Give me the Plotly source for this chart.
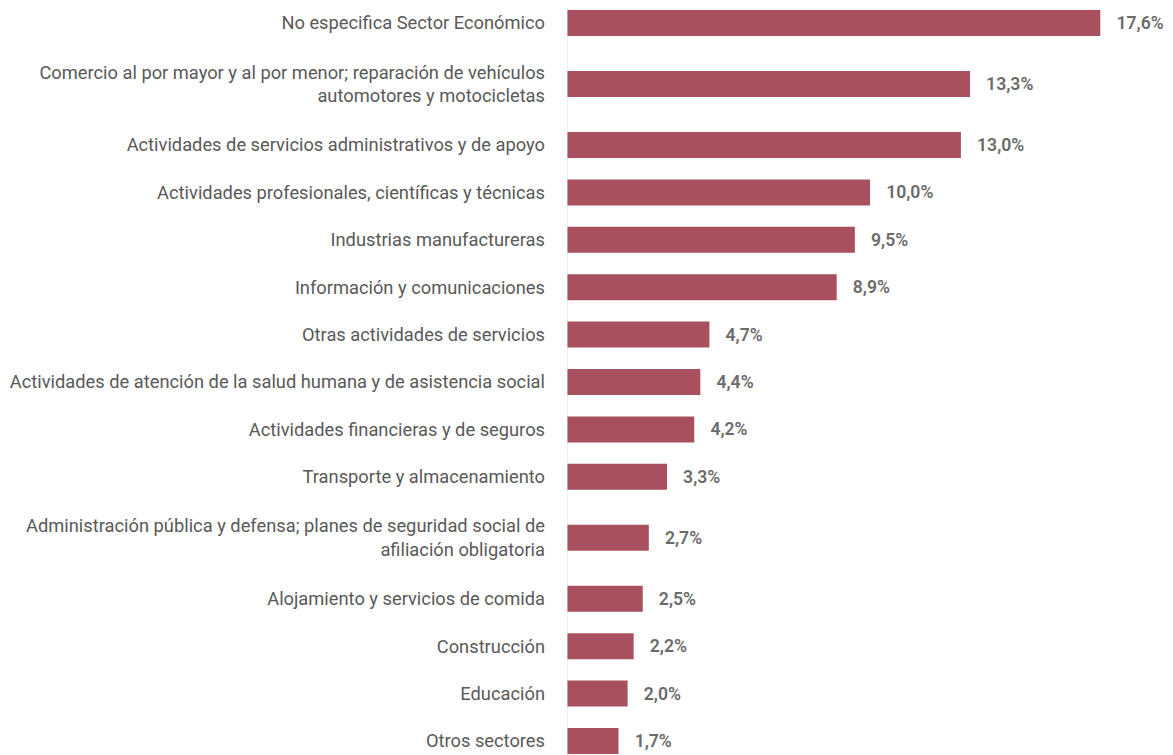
import plotly.graph_objects as go

categories = [
    "No especifica Sector Económico",
    "Comercio al por mayor y al por menor; reparación de vehículos<br>automotores y motocicletas",
    "Actividades de servicios administrativos y de apoyo",
    "Actividades profesionales, científicas y técnicas",
    "Industrias manufactureras",
    "Información y comunicaciones",
    "Otras actividades de servicios",
    "Actividades de atención de la salud humana y de asistencia social",
    "Actividades financieras y de seguros",
    "Transporte y almacenamiento",
    "Administración pública y defensa; planes de seguridad social de<br>afiliación obligatoria",
    "Alojamiento y servicios de comida",
    "Construcción",
    "Educación",
    "Otros sectores",
]
values = [17.6, 13.3, 13.0, 10.0, 9.5, 8.9, 4.7, 4.4, 4.2, 3.3, 2.7, 2.5, 2.2, 2.0, 1.7]

# layout: slot half-heights depend on number of label lines
H1, H2 = 23.7, 37.3
half = [H2 if "<br>" in c else H1 for c in categories]
pos = [0.0]
for i in range(1, len(categories)):
    pos.append(pos[-1] + half[i - 1] + half[i])

labels = ["\u00a0\u00a0\u00a0" + f"{v:.1f}".replace(".", ",") + "%" for v in values]

fig = go.Figure(go.Bar(
    x=values, y=pos, orientation="h", width=26,
    marker=dict(color="#A8505D", line=dict(width=0)),
    text=labels, textposition="outside", cliponaxis=False,
    textfont=dict(family="Roboto", size=17.6, color="#6b6b6b", weight=600),
))

fig.update_layout(
    width=1165, height=747,
    margin=dict(l=559, r=0, t=0, b=0),
    plot_bgcolor="white", paper_bgcolor="white",
    showlegend=False,
    font=dict(family="Roboto", size=18.3, color="#595959"),
)
fig.update_xaxes(range=[0, 20], visible=False)
fig.update_yaxes(
    range=[pos[-1] + 14, -15],
    tickvals=pos, ticktext=categories,
    showgrid=False, zeroline=False, showline=False,
    ticks="", ticklabelstandoff=21,
    tickfont=dict(family="Roboto", size=18.3, color="#595959"),
)
fig.add_shape(type="line", xref="x", yref="paper", x0=0, x1=0, y0=0, y1=1,
              line=dict(color="#e3e3e3", width=1))

fig.write_html("out.html")
